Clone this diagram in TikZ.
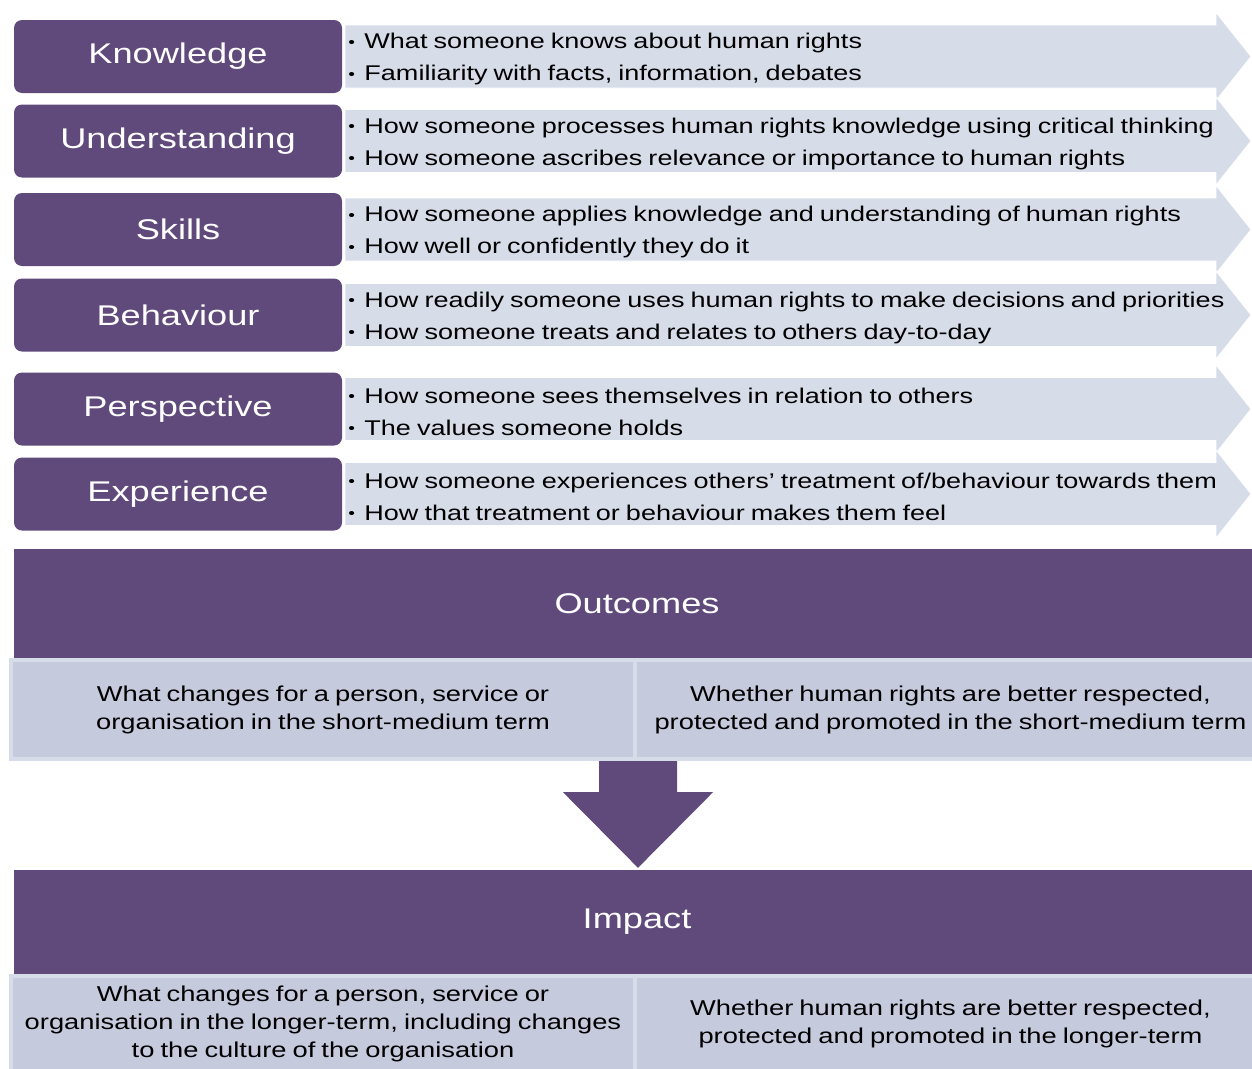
\documentclass[tikz,border=0pt]{standalone}
\usepackage{fontspec}
\setmainfont{Liberation Sans}[FakeStretch=1.27,WordSpace=0.8]
\usetikzlibrary{calc}

\definecolor{plum}{RGB}{96,74,123}
\definecolor{mist}{RGB}{214,220,232}
\definecolor{cellfill}{RGB}{197,202,221}

% small raised bullet followed by a fixed gap
\newcommand\bul{\makebox[16pt][l]{\raisebox{1.5pt}{\fontsize{15}{15}\selectfont •}}}

% one category row: purple label, pale arrow band, two bullet lines
\newcommand\hrrow[5]{%
  \path[band] (345,#2-31.5) -- (1216,#2-31.5) -- (1216,#2-44) -- (1251,#2)
      -- (1216,#2+44) -- (1216,#2+31.5) -- (345,#2+31.5) -- cycle;
  \node[catbox] (#1) at (178,#2) {#3};
  \node[bullets, xshift=4pt, yshift=-2.5pt] (#1-notes) at (#1.east) {\bul #4\\\bul #5};
}

\begin{document}
\begin{tikzpicture}[x=1pt,y=-1pt,
  catbox/.style={fill=plum, rounded corners=8pt, text=white, minimum width=328pt,
    minimum height=73pt, inner sep=0pt, font=\fontsize{28.5}{34}\selectfont},
  bullets/.style={anchor=west, align=left, inner sep=2pt, text=black,
    font=\fontsize{21.3}{32}\selectfont},
  band/.style={fill=mist, draw=white, line width=0.8pt},
  headbox/.style={fill=plum, text=white, inner sep=0pt, minimum width=1246pt,
    font=\fontsize{28.5}{34}\selectfont},
  framebox/.style={fill=mist, inner sep=0pt, minimum width=1258pt},
  cellbox/.style={fill=cellfill, inner sep=0pt, align=center, text=black,
    font=\fontsize{21.5}{28}\selectfont},
  downarrow/.style={fill=plum},
]
\useasboundingbox (0,0) rectangle (1252,1068);
\clip (0,0) rectangle (1252,1068);

\hrrow{know}{56.5}{Knowledge}{What someone knows about human rights}{Familiarity with facts, information, debates}
\hrrow{under}{141}{Understanding}{How someone processes human rights knowledge using critical thinking}{How someone ascribes relevance or importance to human rights}
\hrrow{skills}{229.5}{Skills}{How someone applies knowledge and understanding of human rights}{How well or confidently they do it}
\hrrow{behav}{315}{Behaviour}{How readily someone uses human rights to make decisions and priorities}{How someone treats and relates to others day-to-day}
\hrrow{persp}{409}{Perspective}{How someone sees themselves in relation to others}{The values someone holds}
\hrrow{exper}{494}{Experience}{How someone experiences others' treatment of/behaviour towards them}{How that treatment or behaviour makes them feel}

% Outcomes block
\node[headbox, minimum height=109pt] (out) at (637,603.5) {Outcomes};
\node[framebox, minimum height=103pt] (outfr) at (638,709.5) {};
\node[cellbox, minimum width=620pt, minimum height=95pt] (out-l) at (323,709.5)
  {What changes for a person, service or\\organisation in the short-medium term};
\node[cellbox, minimum width=627pt, minimum height=95pt] (out-r) at (950.5,709.5)
  {Whether human rights are better respected,\\protected and promoted in the short-medium term};

% Impact block
\node[headbox, minimum height=104pt] (imp) at (637,922) {Impact};
\node[framebox, minimum height=100pt] (impfr) at (638,1024) {};
\node[cellbox, minimum width=620pt, minimum height=92pt] (imp-l) at (323,1024)
  {What changes for a person, service or\\organisation in the longer-term, including changes\\to the culture of the organisation};
\node[cellbox, minimum width=627pt, minimum height=92pt] (imp-r) at (950.5,1024)
  {Whether human rights are better respected,\\protected and promoted in the longer-term};

% block arrow from outcomes to impact
\path[downarrow] ($(outfr.south)+(-39,0)$) -- ++(0,31) -- ++(-36,0)
  -- ($(outfr.south |- imp.north)+(0,-2)$) -- ($(outfr.south)+(75,31)$)
  -- ++(-36,0) -- ($(outfr.south)+(39,0)$) -- cycle;
\end{tikzpicture}
\end{document}
